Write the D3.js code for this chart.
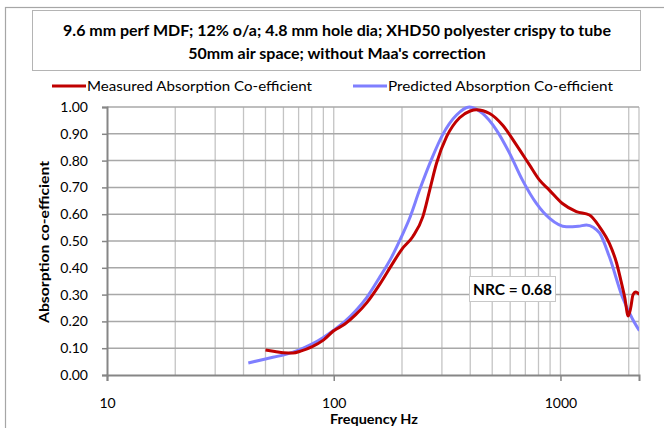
<!DOCTYPE html>
<html><head><meta charset="utf-8">
<script src="https://cdn.jsdelivr.net/npm/d3@7"></script>
<style>body{margin:0;background:#fff;} text{font-family:Lato,"Noto Sans",sans-serif;}</style>
</head><body><svg id="c" width="664" height="428"></svg>
<script>
const titleLines = ["9.6 mm  perf MDF; 12% o/a; 4.8 mm hole dia; XHD50 polyester crispy to tube", "50mm air space; without Maa's correction"];
const seriesNames = ["Measured Absorption Co-efficient", "Predicted Absorption Co-efficient"];
const measuredFreq = [50, 55, 60, 66, 72, 80, 90, 100, 112, 125, 140, 160, 180, 200, 223, 247, 265, 284, 315, 359, 400, 426, 487, 555, 640, 730, 807, 893, 1020, 1175, 1342, 1487, 1645, 1768, 1850, 1920, 1990, 2040, 2090, 2150, 2230];
const measuredVal = [0.093, 0.088, 0.083, 0.082, 0.09, 0.105, 0.13, 0.165, 0.19, 0.225, 0.27, 0.34, 0.41, 0.47, 0.516, 0.59, 0.69, 0.79, 0.89, 0.96, 0.985, 0.99, 0.976, 0.933, 0.858, 0.784, 0.728, 0.69, 0.64, 0.61, 0.597, 0.553, 0.49, 0.418, 0.35, 0.29, 0.22, 0.25, 0.30, 0.31, 0.30];
const predictedFreq = [42, 50, 62, 70, 80, 90, 100, 112, 125, 140, 160, 180, 200, 215, 239, 273, 302, 348, 397, 453, 522, 596, 679, 783, 893, 1062, 1200, 1302, 1400, 1487, 1645, 1877, 2075, 2230];
const predictedVal = [0.045, 0.06, 0.078, 0.093, 0.115, 0.14, 0.167, 0.2, 0.24, 0.29, 0.367, 0.44, 0.52, 0.58, 0.69, 0.815, 0.896, 0.97, 1.0, 0.976, 0.914, 0.828, 0.728, 0.64, 0.585, 0.553, 0.555, 0.56, 0.55, 0.53, 0.44, 0.29, 0.21, 0.165];
const xTickLabels = [10, 100, 1000];
const yTicks = [0, 0.1, 0.2, 0.3, 0.4, 0.5, 0.6, 0.7, 0.8, 0.9, 1.0];
const nrcLabel = "NRC = 0.68";
const xTitle = "Frequency Hz", yTitle = "Absorption co-efficient";

const svg = d3.select("#c");
const L = 107, R = 639, T = 107, B = 375;
const x = d3.scaleLog().domain([10, 2220]).range([L, R]);
const y = d3.scaleLinear().domain([0, 1]).range([B, T]);

// outer border
svg.append("rect").attr("x", 5.5).attr("y", 7.5).attr("width", 700).attr("height", 500)
  .attr("fill", "#fff").attr("stroke", "#a6a6a6").attr("stroke-width", 1.2);
// title box
svg.append("rect").attr("x", 32.5).attr("y", 10.5).attr("width", 608).attr("height", 60)
  .attr("fill", "#fff").attr("stroke", "#b4b4b4");
svg.selectAll(".title").data(titleLines).join("text")
  .attr("x", 337).attr("y", (d, i) => 36 + i * 23).attr("text-anchor", "middle")
  .attr("font-size", 16).attr("font-weight", "bold").attr("fill", "#000").text(d => d);

// legend
const legendX = [52, 353];
const colors = ["#C00000", "#7F7FFF"];
seriesNames.forEach((n, i) => {
  svg.append("line").attr("x1", legendX[i]).attr("x2", legendX[i] + 34).attr("y1", 86).attr("y2", 86)
    .attr("stroke", colors[i]).attr("stroke-width", 3);
  svg.append("text").attr("x", legendX[i] + 35).attr("y", 91).attr("font-size", 14).attr("fill", "#000")
    .attr("textLength", 225).attr("lengthAdjust", "spacingAndGlyphs").text(n);
});

// gridlines
const minorTicks = [];
[10, 100, 1000].forEach(d => { for (let k = 1; k <= 9; k++) { const v = d * k; if (v <= 2220 && v > 10) minorTicks.push(v); } });
svg.append("g").selectAll("line").data(minorTicks).join("line")
  .attr("x1", d => x(d)).attr("x2", d => x(d)).attr("y1", T).attr("y2", B)
  .attr("stroke", "#c4c4c4").attr("stroke-width", 1.3);
svg.append("line").attr("x1", R).attr("x2", R).attr("y1", T).attr("y2", B).attr("stroke", "#c4c4c4").attr("stroke-width", 1.3);
svg.append("g").selectAll("line").data(yTicks.slice(1)).join("line")
  .attr("x1", L).attr("x2", R).attr("y1", d => y(d)).attr("y2", d => y(d))
  .attr("stroke", "#a8a8a8").attr("stroke-width", 1.5);

// axes
const yAxis = svg.append("g").attr("transform", `translate(${L},0)`)
  .call(d3.axisLeft(y).tickValues(yTicks).tickFormat(d3.format(".2f")).tickSize(5).tickPadding(14));
const xAxis = svg.append("g").attr("transform", `translate(0,${B})`)
  .call(d3.axisBottom(x).tickValues(xTickLabels).tickFormat(d3.format("d")).tickSize(6).tickPadding(17));
[yAxis, xAxis].forEach(a => {
  a.select(".domain").attr("stroke", "#868686").attr("stroke-width", 2);
  a.selectAll(".tick line").attr("stroke", "#868686").attr("stroke-width", 1.5);
  a.selectAll(".tick text").attr("font-size", 14).attr("fill", "#000").attr("font-family", "Lato, sans-serif");
});

svg.append("text").attr("x", 374).attr("y", 424).attr("text-anchor", "middle")
  .attr("font-size", 13.5).attr("font-weight", "bold")
  .attr("textLength", 88).attr("lengthAdjust", "spacingAndGlyphs").text(xTitle);
svg.append("text").attr("transform", "translate(49,242) rotate(-90)").attr("text-anchor", "middle")
  .attr("font-size", 13.5).attr("font-weight", "bold")
  .attr("textLength", 162).attr("lengthAdjust", "spacingAndGlyphs").text(yTitle);

// curves
const line = d3.line().x(d => x(d[0])).y(d => y(d[1])).curve(d3.curveMonotoneX);
svg.append("clipPath").attr("id", "pc").append("rect").attr("x", L).attr("y", T - 5).attr("width", R - L).attr("height", B - T + 10);
svg.append("path").datum(d3.zip(predictedFreq, predictedVal)).attr("d", line).attr("clip-path", "url(#pc)")
  .attr("fill", "none").attr("stroke", colors[1]).attr("stroke-width", 3).attr("stroke-linejoin", "round");
svg.append("path").datum(d3.zip(measuredFreq, measuredVal)).attr("d", line).attr("clip-path", "url(#pc)")
  .attr("fill", "none").attr("stroke", colors[0]).attr("stroke-width", 3).attr("stroke-linejoin", "round");

// NRC box
svg.append("rect").attr("x", 469.5).attr("y", 276.5).attr("width", 86).attr("height", 25)
  .attr("fill", "#fff").attr("stroke", "#c8c8c8");
svg.append("text").attr("x", 512.5).attr("y", 294.5).attr("text-anchor", "middle")
  .attr("font-size", 15).attr("font-weight", "bold")
  .attr("textLength", 79).attr("lengthAdjust", "spacingAndGlyphs").text(nrcLabel);
</script></body></html>
